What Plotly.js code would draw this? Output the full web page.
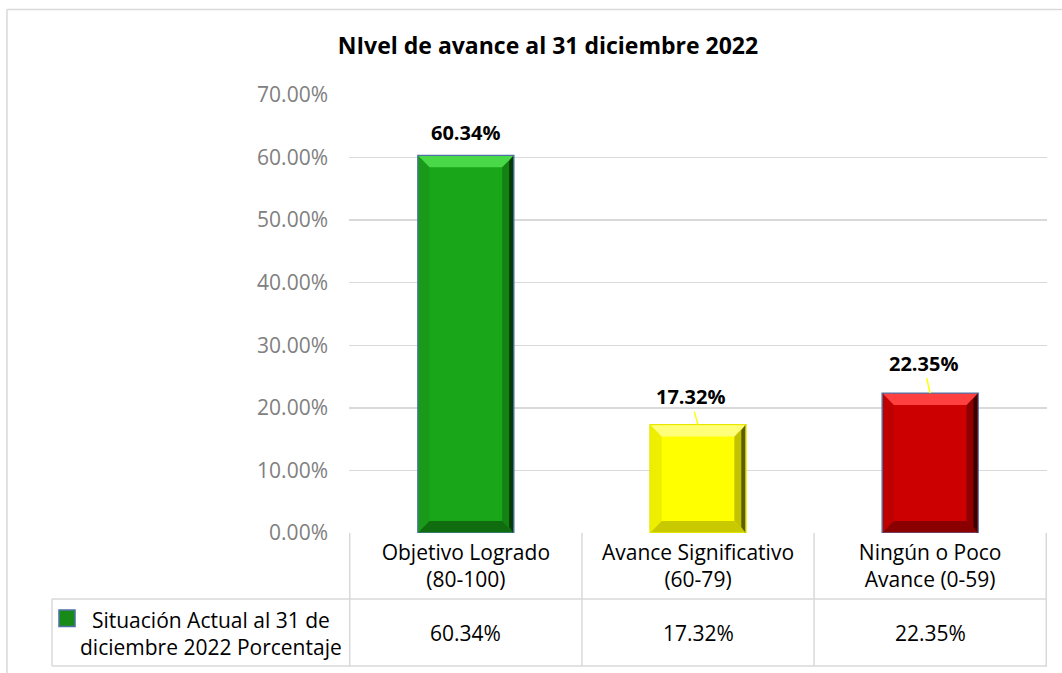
<!DOCTYPE html>
<html>
<head>
<meta charset="utf-8">
<script src="https://cdn.plot.ly/plotly-3.0.1.min.js"></script>
<style>html,body{margin:0;padding:0;background:#fff;}#chart{width:1062px;height:673px;}</style>
</head>
<body>
<div id="chart"></div>
<script>
// ---- data ----
var chartTitle = 'NIvel de avance al 31 diciembre 2022';
var categories = ['Objetivo Logrado<br>(80-100)', 'Avance Significativo<br>(60-79)', 'Ningún o Poco<br>Avance (0-59)'];
var values = [0.6034, 0.1732, 0.2235];
var seriesName = 'Situación Actual al 31 de<br>diciembre 2022 Porcentaje';
var yTicks = [0, 0.1, 0.2, 0.3, 0.4, 0.5, 0.6, 0.7];

// ---- styles ----
var FONT = 'Open Sans, Noto Sans, sans-serif';
var palettes = [
  {main:'#19a719', top:'#48d848', rightIn:'#138213', rightOut:'#083a08', bottom:'#0f6c0f', left:'#1b991b', line:'#4f72a6'},
  {main:'#ffff00', top:'#ffff7a', rightIn:'#c2c200', rightOut:'#5c5c00', bottom:'#c9c900', left:'#eeee00', line:'#e6e600'},
  {main:'#cc0000', top:'#ff4040', rightIn:'#8e0000', rightOut:'#3a0000', bottom:'#8a0000', left:'#bf0000', line:'#4f72a6'}
];
var barWidth = 0.413;
var bevX = 0.05, bevY = 0.019, bevX2 = 0.02;

var trace = {
  type: 'bar',
  x: categories,
  y: values,
  width: barWidth,
  marker: {color: palettes.map(function(p){return p.main;}), line: {color: palettes.map(function(p){return p.line;}), width: 1.5}},
  hoverinfo: 'none',
  showlegend: false
};

var shapes = [];
var gridC = '#d9d9d9';
values.forEach(function(v, i){
  var p = palettes[i];
  var L = i - barWidth/2, R = i + barWidth/2;
  function poly(pts, col){
    var d = 'M' + pts.map(function(q){return q[0] + ',' + q[1];}).join(' L') + ' Z';
    shapes.push({type:'path', xref:'x', yref:'y', path:d, fillcolor:col, line:{width:0}, layer:'above'});
  }
  poly([[L+0.003,v],[L+bevX,v-bevY],[L+bevX,bevY],[L+0.003,0]], p.left);
  poly([[R-0.003,v],[R-bevX,v-bevY],[R-bevX,bevY],[R-0.003,0]], p.rightIn);
  poly([[R-0.003,v],[R-bevX2,v-bevY*0.5],[R-bevX2,bevY*0.5],[R-0.003,0]], p.rightOut);
  poly([[L+0.003,v-0.001],[R-0.003,v-0.001],[R-bevX,v-bevY],[L+bevX,v-bevY]], p.top);
  poly([[L+0.003,0.001],[R-0.003,0.001],[R-bevX,bevY],[L+bevX,bevY]], p.bottom);
});

// table geometry (paper units below plot)
var rowDiv = -0.1507, tblBottom = -0.3037, legLeft = -0.4255;
function line(x0,y0,x1,y1,xr,yr){ shapes.push({type:'line', xref:xr, yref:yr, x0:x0, y0:y0, x1:x1, y1:y1, line:{color:gridC, width:1.5}, layer:'below'}); }
[-0.5, 0.5, 1.5, 2.5].forEach(function(x){ line(x, 0, x, tblBottom, 'x', 'paper'); });
line(legLeft, rowDiv, 1, rowDiv, 'paper', 'paper');
line(legLeft, tblBottom, 1, tblBottom, 'paper', 'paper');
line(legLeft, rowDiv, legLeft, tblBottom, 'paper', 'paper');
// outer chart frame
line(-0.49, 1.195, 1.03, 1.195, 'paper', 'paper');
line(-0.49, 1.195, -0.49, -0.32, 'paper', 'paper');
// legend key
shapes.push({type:'rect', xref:'paper', yref:'paper', x0:-0.4155, x1:-0.3925, y0:-0.176, y1:-0.2135, fillcolor:'#178a17', line:{color:'#4f72a6', width:1.5}, layer:'above'});

var annotations = [];
var labelOff = [[0,-23],[-8,-28],[-7,-30]];
values.forEach(function(v, i){
  var txt = (v*100).toFixed(2) + '%';
  annotations.push({
    x: i, y: v, xref:'x', yref:'y', text: txt,
    showarrow: i !== 0, ax: labelOff[i][0], ay: labelOff[i][1],
    yshift: i === 0 ? 23 : 0,
    arrowhead: 0, arrowwidth: 1.5, arrowcolor: '#ffff00', standoff: 0,
    font: {family: FONT, size: 20, color: '#000', weight: 'bold'}
  });
  annotations.push({
    x: i, y: -0.229, xref:'x', yref:'paper', xanchor:'center', yanchor:'middle', text: txt, showarrow:false,
    font: {family: FONT, size: 21, color: '#000'}
  });
});
annotations.push({x:-0.1977, y:-0.229, xref:'paper', yref:'paper', xanchor:'center', yanchor:'middle', text: seriesName, showarrow:false,
  font:{family: FONT, size: 21, color:'#000'}, align:'center'});

var layout = {
  width: 1062, height: 673,
  margin: {l: 349, r: 15, t: 95, b: 140},
  paper_bgcolor: '#fff', plot_bgcolor: '#fff',
  title: {text: '<b>' + chartTitle + '</b>', x: 0.516, xref:'container', xanchor:'center', y: 0.931, yref:'container', yanchor:'middle',
    font: {family: FONT, size: 23, color: '#000'}},
  xaxis: {type:'category', showgrid:false, zeroline:false, showline:false, ticks:'', ticklabelstandoff: 5,
    tickfont:{family: FONT, size: 21, color:'#000'}, fixedrange:true},
  yaxis: {range:[0, 0.7], tickvals: yTicks, tickformat: '.2%', showgrid:true, gridcolor: gridC, gridwidth: 1.5,
    zeroline:false, showline:false, ticks:'', ticklabelstandoff: 20,
    tickfont:{family: FONT, size: 21, color:'#808080'}, fixedrange:true},
  shapes: shapes,
  annotations: annotations,
  showlegend: false,
  bargap: 0.5
};

Plotly.newPlot('chart', [trace], layout, {staticPlot: true, displayModeBar: false});
</script>
</body>
</html>
